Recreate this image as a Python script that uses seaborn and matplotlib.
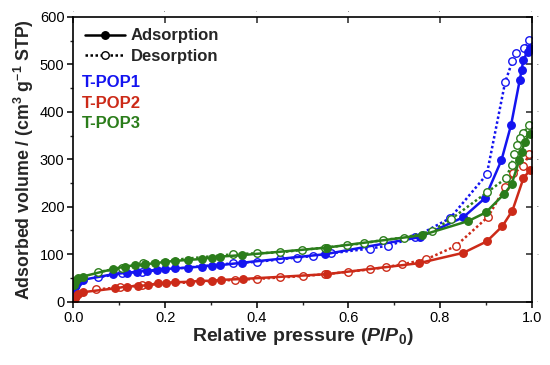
import numpy as np
import pandas as pd
import matplotlib
matplotlib.use('Agg')
import matplotlib.pyplot as plt
from matplotlib.ticker import MultipleLocator, FormatStrFormatter
from matplotlib.lines import Line2D
import seaborn as sns

# T-POP1 (blue)
pop1_ads_p = [0.001, 0.003, 0.006, 0.01, 0.02, 0.087, 0.116, 0.138, 0.16, 0.182, 0.2, 0.222, 0.25, 0.28,
              0.302, 0.32, 0.367, 0.549, 0.756, 0.851, 0.898, 0.934, 0.955, 0.974, 0.978, 0.982, 0.991, 0.996]
pop1_ads_v = [22, 30, 36, 41, 46, 58, 61, 63, 65, 67, 69, 70, 72, 74,
              76, 77, 82, 100, 136, 178, 218, 298, 372, 467, 488, 510, 526, 535]
pop1_des_p = [0.995, 0.984, 0.966, 0.958, 0.942, 0.902, 0.822, 0.745, 0.687, 0.647, 0.563, 0.523,
              0.487, 0.451, 0.4, 0.349, 0.149, 0.105, 0.054]
pop1_des_v = [551, 535, 523, 507, 462, 268, 176, 136, 118, 112, 102, 96,
              93, 89, 84, 81, 63, 60, 51]

# T-POP2 (red)
pop2_ads_p = [0.001, 0.003, 0.006, 0.01, 0.02, 0.09, 0.116, 0.141, 0.163, 0.185, 0.203, 0.222, 0.254,
              0.276, 0.302, 0.323, 0.371, 0.553, 0.753, 0.851, 0.902, 0.936, 0.958, 0.982, 0.996]
pop2_ads_v = [4, 8, 12, 16, 20, 28, 32, 33, 35, 39, 40, 41, 42,
              44, 44, 46, 48, 58, 81, 103, 127, 159, 192, 260, 277]
pop2_des_p = [0.995, 0.982, 0.96, 0.942, 0.905, 0.834, 0.769, 0.718, 0.683, 0.647, 0.6, 0.549,
              0.502, 0.451, 0.4, 0.352, 0.149, 0.101, 0.05]
pop2_des_v = [312, 286, 270, 241, 179, 117, 89, 79, 73, 68, 63, 58,
              54, 51, 48, 46, 35, 30, 26]

# T-POP3 (green)
pop3_ads_p = [0.001, 0.003, 0.006, 0.01, 0.02, 0.087, 0.112, 0.135, 0.155, 0.178, 0.2, 0.222, 0.25,
              0.28, 0.302, 0.32, 0.367, 0.553, 0.76, 0.862, 0.9, 0.94, 0.956, 0.973, 0.978, 0.985, 0.996]
pop3_ads_v = [35, 42, 46, 49, 53, 69, 74, 77, 79, 81, 84, 86, 88,
              90, 93, 95, 98, 114, 140, 170, 188, 227, 247, 298, 316, 337, 354]
pop3_des_p = [0.995, 0.982, 0.975, 0.967, 0.962, 0.956, 0.944, 0.902, 0.824, 0.783, 0.722, 0.675,
              0.633, 0.596, 0.549, 0.498, 0.451, 0.4, 0.349, 0.152, 0.105, 0.054]
pop3_des_v = [372, 356, 344, 330, 312, 288, 260, 230, 174, 149, 135, 130,
              123, 119, 114, 109, 104, 102, 100, 82, 70, 63]

sample_names = ['T-POP1', 'T-POP2', 'T-POP3']
sample_colors = ['#1414f0', '#cc2a18', '#2b7d1b']

sns.set_theme(style='ticks')
plt.rcParams['font.family'] = ['Liberation Sans', 'DejaVu Sans']
plt.rcParams['mathtext.fontset'] = 'custom'
plt.rcParams['mathtext.bf'] = 'Liberation Sans:bold'
plt.rcParams['mathtext.bfit'] = 'Liberation Sans:bold:italic'
plt.rcParams['mathtext.it'] = 'Liberation Sans:italic'
plt.rcParams['mathtext.rm'] = 'Liberation Sans'

fig = plt.figure(figsize=(5.5, 3.65), dpi=100)
ax = fig.add_axes([0.1336, 0.1734, 0.8331, 0.7806])

series = [
    (pop1_ads_p, pop1_ads_v, pop1_des_p, pop1_des_v),
    (pop2_ads_p, pop2_ads_v, pop2_des_p, pop2_des_v),
    (pop3_ads_p, pop3_ads_v, pop3_des_p, pop3_des_v),
]

for (ap, av, dp, dv), name, col in zip(series, sample_names, sample_colors):
    ads = pd.DataFrame({'p': ap, 'v': av})
    des = pd.DataFrame({'p': dp, 'v': dv})
    sns.lineplot(data=des, x='p', y='v', ax=ax, sort=False, estimator=None, color=col,
                 linestyle=(0, (1, 1)), linewidth=1.8, marker='o', markersize=5.4,
                 markerfacecolor='white', markeredgecolor=col, markeredgewidth=1.0)
    sns.lineplot(data=ads, x='p', y='v', ax=ax, sort=False, estimator=None, color=col,
                 linewidth=1.8, marker='o', markersize=5.4,
                 markerfacecolor=col, markeredgecolor=col, markeredgewidth=1.0)

ax.set_xlim(0, 1.0)
ax.set_ylim(0, 600)
ax.xaxis.set_major_locator(MultipleLocator(0.2))
ax.xaxis.set_minor_locator(MultipleLocator(0.1))
ax.xaxis.set_major_formatter(FormatStrFormatter('%.1f'))
ax.yaxis.set_major_locator(MultipleLocator(100))
ax.yaxis.set_minor_locator(MultipleLocator(50))

for s in ax.spines.values():
    s.set_linewidth(1.2)
    s.set_color('black')
ax.tick_params(which='major', direction='out', length=4.5, width=1.1, labelsize=10.5, colors='black', pad=2)
ax.tick_params(which='minor', direction='out', length=2.5, width=1.0)

# mirrored ticks on top and right, pointing inward
for sec in (ax.secondary_xaxis('top'), ax.secondary_yaxis('right')):
    sec.tick_params(which='major', direction='in', length=4.5, width=1.1, labelsize=0)
    sec.tick_params(which='minor', direction='in', length=2.5, width=1.0)
    sec.spines[:].set_visible(False)

ax.set_xlabel(r'Relative pressure ($\boldsymbol{P}$/$\boldsymbol{P}_\mathbf{0}$)', fontsize=14, fontweight='bold', labelpad=1)
ax.set_ylabel(r'Adsorbed volume / (cm$^\mathbf{3}$ g$^\mathbf{-1}$ STP)', fontsize=12.8, fontweight='bold', labelpad=3)

handles = [
    Line2D([], [], color='black', linewidth=1.8, marker='o', markersize=5.4, markerfacecolor='black'),
    Line2D([], [], color='black', linewidth=1.8, linestyle=(0, (1, 1)), marker='o', markersize=5.4,
           markerfacecolor='white', markeredgecolor='black'),
]
ax.legend(handles, ['Adsorption', 'Desorption'], loc='upper left', bbox_to_anchor=(0.0, 1.0),
          frameon=False, prop={'weight': 'bold', 'size': 12}, handlelength=2.4, handletextpad=0.35,
          labelspacing=0.35, borderaxespad=0.35, borderpad=0.35)

text_y = [0.771, 0.697, 0.624]
for name, col, ty in zip(sample_names, sample_colors, text_y):
    ax.text(0.019, ty, name, transform=ax.transAxes, color=col,
            fontsize=12, fontweight='bold', va='center', ha='left')

fig.savefig('out.png', dpi=100)
